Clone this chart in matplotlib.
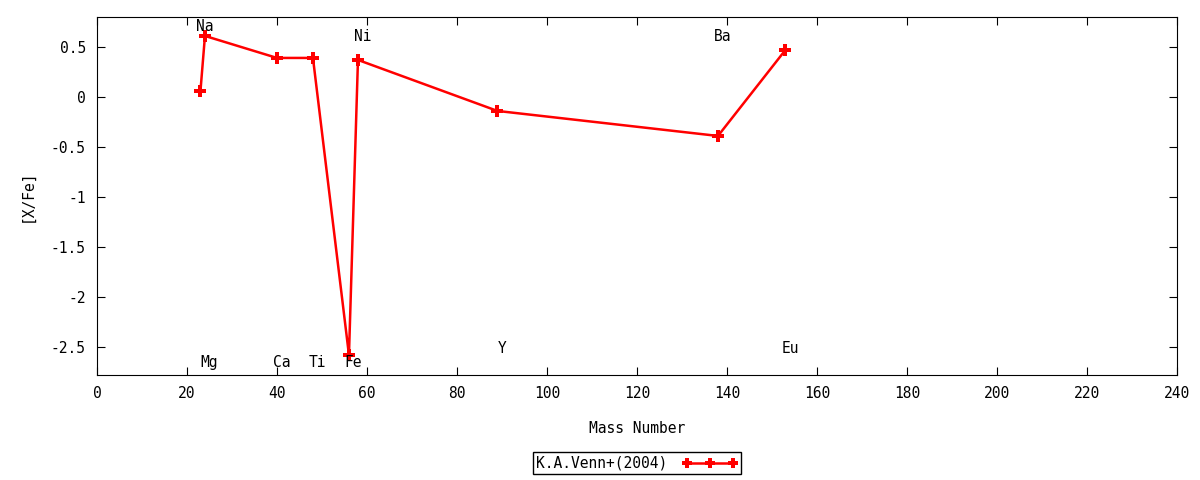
import matplotlib.pyplot as plt
from matplotlib.ticker import FuncFormatter

plt.rcParams['font.family'] = ['DejaVu Sans Mono']
plt.rcParams['font.size'] = 10.5

# abundance pattern, K.A.Venn+(2004)
elements = ['Na', 'Mg', 'Ca', 'Ti', 'Fe', 'Ni', 'Y', 'Ba', 'Eu']
mass = [23, 24, 40, 48, 56, 58, 89, 138, 153]
x_fe = [0.06, 0.61, 0.39, 0.39, -2.58, 0.37, -0.14, -0.39, 0.47]

# where the element names sit
label_y = [0.70, -2.66, -2.66, -2.66, -2.66, 0.60, -2.52, 0.60, -2.52]

fig = plt.figure(figsize=(12, 4.8), dpi=100)
ax = fig.add_axes([0.0808, 0.21875, 0.9, 0.746])

ax.plot(mass, x_fe, color='red', lw=1.8, marker='P', ms=9, mew=0,
        label='K.A.Venn+(2004)')

for el, m, ly in zip(elements, mass, label_y):
    ax.text(m + 1, ly, el, ha='center', va='center')

ax.set_xlim(0, 240)
ax.set_ylim(-2.78, 0.8)
ax.set_xticks(range(0, 241, 20))
ax.set_yticks([0.5, 0, -0.5, -1, -1.5, -2, -2.5])
ax.yaxis.set_major_formatter(FuncFormatter(lambda v, p: '%g' % v))
ax.tick_params(direction='in', top=True, right=True, length=6, pad=8)
ax.set_xlabel('Mass Number', labelpad=14)
ax.set_ylabel('[X/Fe]', labelpad=12)

ax.legend(loc='upper center', bbox_to_anchor=(0.5, -0.215), markerfirst=False,
          numpoints=3, handlelength=3.8, fancybox=False, edgecolor='black',
          framealpha=1, borderpad=0.25, handletextpad=1.0, borderaxespad=0,
          markerscale=0.75)

fig.savefig('out.png')
